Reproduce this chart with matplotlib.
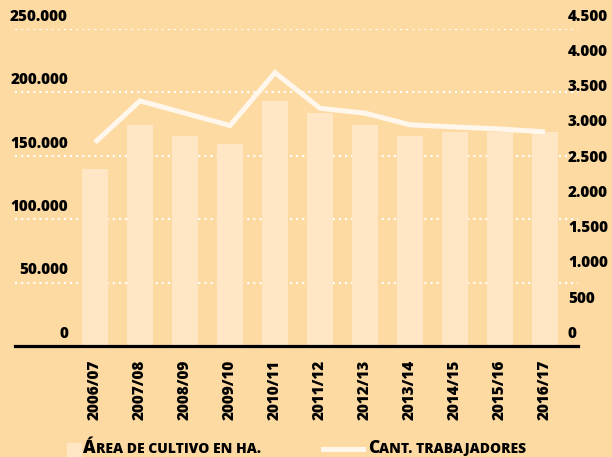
import matplotlib
matplotlib.use('Agg')
import matplotlib.pyplot as plt
from matplotlib.patches import Rectangle
from matplotlib.lines import Line2D
import numpy as np

plt.rcParams['font.family'] = ['Open Sans', 'DejaVu Sans']
plt.rcParams['lines.scale_dashes'] = False
PESO = 800
TAM = 11

temporadas = ['2006/07', '2007/08', '2008/09', '2009/10', '2010/11', '2011/12',
              '2012/13', '2013/14', '2014/15', '2015/16', '2016/17']
area_ha = [139600, 174300, 165600, 159300, 193500, 183500,
           174500, 165800, 169000, 169000, 169000]
trabajadores = [2890, 3480, 3305, 3130, 3880, 3375,
                3305, 3140, 3110, 3080, 3040]

ticks_izq = [0, 50000, 100000, 150000, 200000, 250000]
etiquetas_izq = ['0', '50.000', '100.000', '150.000', '200.000', '250.000']
ticks_der = [0, 500, 1000, 1500, 2000, 2500, 3000, 3500, 4000, 4500]
etiquetas_der = ['0', '500', '1.000', '1.500', '2.000', '2.500', '3.000',
                 '3.500', '4.000', '4.500']

fondo = '#FDDAA2'
color_barra = '#FFE7C6'
color_linea = '#FFF7EC'

W, H = 612, 457
fig = plt.figure(figsize=(W / 100, H / 100), dpi=100, facecolor=fondo)

# ejes: de x=15 a x=578 px, de y=29 (250.000) a y=346 (0)
ax = fig.add_axes([15 / W, 1 - 346 / H, 563 / W, 317 / H])
ax.set_facecolor('none')
ax2 = ax.twinx()

x = np.arange(len(temporadas))
paso = 45.0
ax.set_xlim((15 - 95) / paso, (578 - 95) / paso)
ax.set_ylim(0, 250000)
ax2.set_ylim(0, 4500)

# lineas de grilla punteadas
for v in ticks_izq[1:]:
    ax.axhline(v, color='white', lw=1.5, dashes=(1.5, 2.9), zorder=0)

ax.bar(x, area_ha, width=26 / paso, color=color_barra, zorder=2)
ax2.plot(x, trabajadores, color=color_linea, lw=3.6, solid_joinstyle='miter',
         solid_capstyle='butt', zorder=3)

for a in (ax, ax2):
    for s in a.spines.values():
        s.set_visible(False)
    a.set_yticks([])
ax.spines['bottom'].set_visible(True)
ax.spines['bottom'].set_linewidth(2.3)
ax.spines['bottom'].set_color('black')
ax.spines['bottom'].set_zorder(5)

ax.set_xticks(x)
ax.set_xticklabels(temporadas, rotation=90, fontsize=TAM, fontweight=PESO)
ax.tick_params(axis='x', length=0, pad=10)

# etiquetas del eje izquierdo
for v, t in zip(ticks_izq, etiquetas_izq):
    ax.annotate(t, xy=((68 - 15) / 563, v), xycoords=ax.get_yaxis_transform(),
                xytext=(0, 3), textcoords='offset points', ha='right',
                va='bottom', fontsize=TAM, fontweight=PESO, annotation_clip=False)

# etiquetas del eje derecho
for v, t in zip(ticks_der, etiquetas_der):
    ax2.annotate(t, xy=((568 - 15) / 563, v), xycoords=ax2.get_yaxis_transform(),
                 xytext=(0, 3), textcoords='offset points', ha='left',
                 va='bottom', fontsize=TAM, fontweight=PESO, annotation_clip=False)

# leyenda
fig.patches.append(Rectangle((67 / W, 0), 14 / W, 14 / H, transform=fig.transFigure,
                             color=color_barra, figure=fig))
fig.lines.append(Line2D([323 / W, 363 / W], [1 - 449 / H, 1 - 449 / H],
                        transform=fig.transFigure, color=color_linea, lw=3.6,
                        figure=fig))

fig.canvas.draw()
r = fig.canvas.get_renderer()


def texto_versalitas(x0, mayuscula, resto):
    t1 = fig.text(x0 / W, 1 - 453 / H, mayuscula, fontsize=12.5, fontweight=PESO,
                  ha='left', va='baseline')
    bb = t1.get_window_extent(renderer=r)
    fig.text(bb.x1 / W, 1 - 453 / H, resto, fontsize=10, fontweight=PESO,
             ha='left', va='baseline')


texto_versalitas(83, 'Á', 'REA DE CULTIVO EN HA.')
texto_versalitas(368, 'C', 'ANT. TRABAJADORES')

fig.savefig('out.png', dpi=100, facecolor=fondo)
